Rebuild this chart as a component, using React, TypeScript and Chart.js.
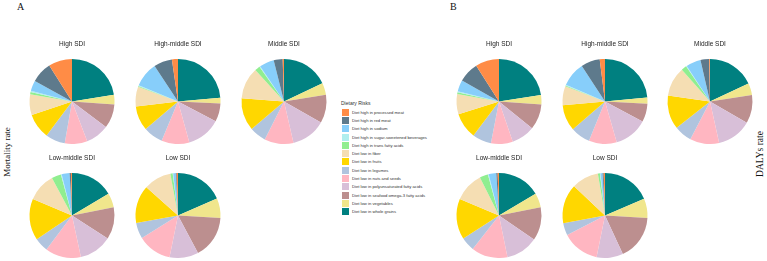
import React, { useEffect, useRef } from "react";
import { Chart, registerables } from "chart.js";

Chart.register(...registerables);

// Legend order (top to bottom)
const riskLabels = [
  "Diet high in processed meat",
  "Diet high in red meat",
  "Diet high in sodium",
  "Diet high in sugar-sweetened beverages",
  "Diet high in trans fatty acids",
  "Diet low in fiber",
  "Diet low in fruits",
  "Diet low in legumes",
  "Diet low in nuts and seeds",
  "Diet low in polyunsaturated fatty acids",
  "Diet low in seafood omega-3 fatty acids",
  "Diet low in vegetables",
  "Diet low in whole grains",
];
const riskColors = [
  "#FF8C46",
  "#5E7A8C",
  "#87CEFA",
  "#AFEEEE",
  "#90EE90",
  "#F5DEB3",
  "#FFD700",
  "#B0C4DE",
  "#FFB6C1",
  "#D8BFD8",
  "#BC8F8F",
  "#F0E68C",
  "#008080",
];

const sdiGroups = ["High SDI", "High-middle SDI", "Middle SDI", "Low-middle SDI", "Low SDI"];

// Mortality rate shares (%), legend order
const mortHigh = [9, 8, 4, 0.5, 0.8, 7.9, 9.7, 7.5, 8.6, 8.9, 9.2, 3.7, 22.5];
const mortHighMiddle = [2.3, 7, 9.5, 0.3, 0.3, 7.5, 9.4, 7.5, 10.6, 13, 7, 2.2, 23.6];
const mortMiddle = [0.5, 3.4, 5.6, 0.3, 2, 12, 12.5, 6.3, 11.1, 13.2, 10.8, 4.5, 18];
const mortLowMiddle = [0.4, 0.5, 3, 0.3, 3.6, 10.8, 15.8, 5.3, 13.6, 12.5, 12.2, 5.5, 16.4];
const mortLow = [0.5, 0.3, 1, 0.2, 0.9, 10.5, 14.5, 6, 13, 11, 16.3, 7.5, 18.5];

// DALYs rate shares (%), legend order
const dalyHigh = [9, 7.8, 4.3, 0.4, 0.7, 7.6, 9.9, 7.2, 8.3, 8.9, 9.7, 3.6, 22.5];
const dalyHighMiddle = [2, 7.2, 9.4, 0.3, 0.3, 7.2, 10, 7.5, 10.6, 12.8, 6.9, 2.4, 23.5];
const dalyMiddle = [0.3, 3.3, 5.6, 0.3, 2, 11.2, 12.9, 6.7, 11.1, 13.2, 10.8, 4.5, 18];
const dalyLowMiddle = [0.5, 0.5, 2.9, 0.3, 3.2, 11.3, 15.4, 5.3, 13.8, 12.2, 12.7, 5.4, 16.5];
const dalyLow = [0.5, 0.4, 0.8, 0.2, 0.8, 10.3, 15, 4.6, 14.3, 10.1, 17.2, 7.4, 18.6];

const mortSets = [mortHigh, mortHighMiddle, mortMiddle, mortLowMiddle, mortLow];
const dalySets = [dalyHigh, dalyHighMiddle, dalyMiddle, dalyLowMiddle, dalyLow];

const PIE_D = 85;
const TITLE_H = 19;
const CANVAS_W = 100;

function Pie({ title, values, cx, top }: { title: string; values: number[]; cx: number; top: number }) {
  const ref = useRef<HTMLCanvasElement | null>(null);
  useEffect(() => {
    if (!ref.current) return;
    // pie drawn clockwise from 12 o'clock in reverse legend order
    const order = riskLabels.map((_, i) => riskLabels.length - 1 - i);
    const chart = new Chart(ref.current, {
      type: "pie",
      data: {
        labels: order.map((i) => riskLabels[i]),
        datasets: [
          {
            data: order.map((i) => values[i]),
            backgroundColor: order.map((i) => riskColors[i]),
            borderWidth: 0,
            hoverOffset: 0,
          },
        ],
      },
      options: {
        responsive: false,
        animation: false,
        devicePixelRatio: 1,
        layout: { padding: 0 },
        plugins: {
          legend: { display: false },
          tooltip: { enabled: false },
          title: {
            display: true,
            text: title,
            color: "#222",
            font: { family: "Liberation Sans, Arial, sans-serif", size: 6.5, weight: "normal", lineHeight: 1.2 },
            padding: { top: 0, bottom: 11.2 },
          },
        },
      },
    });
    return () => chart.destroy();
  }, [title, values]);
  return (
    <canvas
      ref={ref}
      width={CANVAS_W}
      height={TITLE_H + PIE_D}
      style={{ position: "absolute", left: cx - CANVAS_W / 2, top: top - TITLE_H, width: CANVAS_W, height: TITLE_H + PIE_D }}
    />
  );
}

const rowTops = [59, 173.3];
const panelA = [
  { cx: 71.5, row: 0 },
  { cx: 177.5, row: 0 },
  { cx: 283.5, row: 0 },
  { cx: 71.5, row: 1 },
  { cx: 177.5, row: 1 },
];
const panelB = [
  { cx: 498.5, row: 0 },
  { cx: 604.5, row: 0 },
  { cx: 710, row: 0 },
  { cx: 498.5, row: 1 },
  { cx: 604.5, row: 1 },
];

export default function App() {
  const serif = "Liberation Serif, 'Times New Roman', serif";
  const sans = "Liberation Sans, Arial, sans-serif";
  return (
    <div style={{ position: "fixed", left: 0, top: 0, width: 767, height: 261, background: "#fff", overflow: "hidden" }}>
      <div style={{ position: "absolute", left: 17, top: 1, fontFamily: serif, fontSize: 10, color: "#111", lineHeight: "12px" }}>A</div>
      <div style={{ position: "absolute", left: 450, top: 1, fontFamily: serif, fontSize: 10, color: "#111", lineHeight: "12px" }}>B</div>
      <div
        style={{
          position: "absolute",
          left: 7,
          top: 152,
          fontFamily: serif,
          fontSize: 9,
          color: "#111",
          whiteSpace: "nowrap",
          transform: "translate(-50%, -50%) rotate(-90deg)",
          lineHeight: "10px",
        }}
      >
        Mortality rate
      </div>
      <div
        style={{
          position: "absolute",
          left: 760,
          top: 154,
          fontFamily: serif,
          fontSize: 9.5,
          color: "#111",
          whiteSpace: "nowrap",
          transform: "translate(-50%, -50%) rotate(-90deg)",
          lineHeight: "10px",
        }}
      >
        DALYs rate
      </div>
      {panelA.map((p, i) => (
        <Pie key={"a" + i} title={sdiGroups[i]} values={mortSets[i]} cx={p.cx} top={rowTops[p.row]} />
      ))}
      {panelB.map((p, i) => (
        <Pie key={"b" + i} title={sdiGroups[i]} values={dalySets[i]} cx={p.cx} top={rowTops[p.row]} />
      ))}
      <div style={{ position: "absolute", left: 341, top: 100, fontFamily: sans, fontSize: 5, color: "#333", lineHeight: "6px", whiteSpace: "nowrap" }}>
        Dietary Risks
      </div>
      {riskLabels.map((lab, i) => {
        const cy = 112.3 + 8.28 * i;
        return (
          <React.Fragment key={lab}>
            <div style={{ position: "absolute", left: 342, top: cy - 3.5, width: 7, height: 7, background: riskColors[i] }} />
            <div
              style={{
                position: "absolute",
                left: 352,
                top: cy - 2.5,
                fontFamily: sans,
                fontSize: 4.2,
                color: "#333",
                lineHeight: "5px",
                whiteSpace: "nowrap",
              }}
            >
              {lab}
            </div>
          </React.Fragment>
        );
      })}
    </div>
  );
}
